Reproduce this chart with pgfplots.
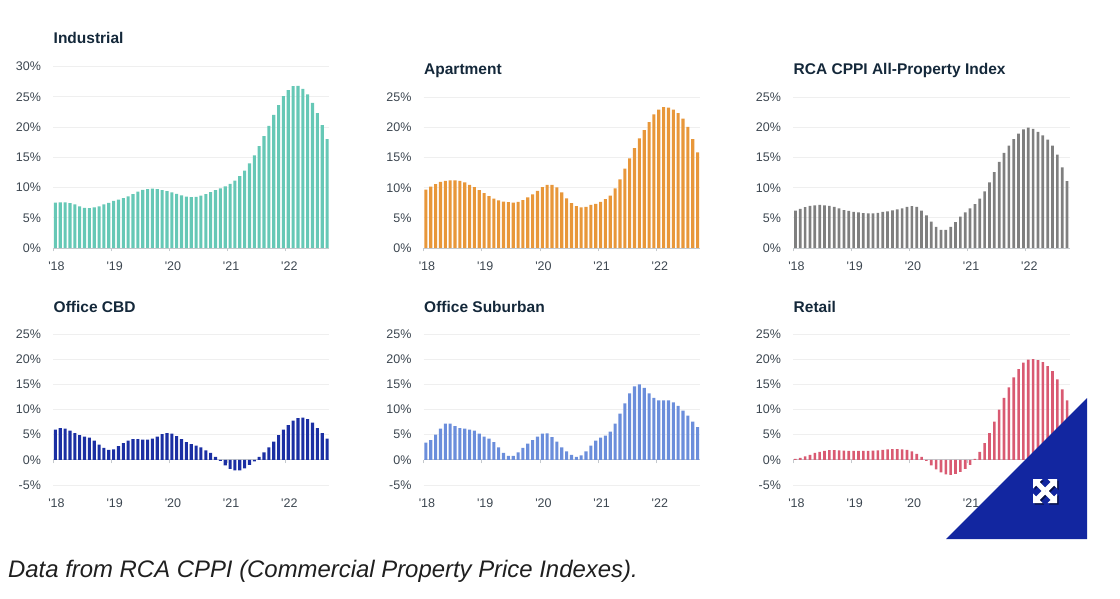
\documentclass[border=0pt]{standalone}
\usepackage{fontspec}
\setmainfont{Liberation Sans}
\usepackage{pgfplots}
\usepackage{pgfplotstable}
\pgfplotsset{compat=1.18}

\definecolor{ctitle}{HTML}{14283A}
\definecolor{ctick}{HTML}{3C4650}
\definecolor{cgrid}{HTML}{EFEFEF}
\definecolor{caxis}{HTML}{C4C8CC}
\definecolor{cind}{HTML}{66C8B6}
\definecolor{capt}{HTML}{E8973A}
\definecolor{call}{HTML}{7F7F7F}
\definecolor{ccbd}{HTML}{1B2FA3}
\definecolor{csub}{HTML}{6B8EDB}
\definecolor{cret}{HTML}{D95A72}
\definecolor{ctri}{HTML}{1226A0}

% monthly values, Jan 2018 to Sep 2022
\pgfplotstableread{
ind apt all cbd sub ret
7.5 9.7 6.2 6.0 3.4 0.2
7.55 10.2 6.5 6.3 3.9 0.4
7.55 10.6 6.8 6.2 5.0 0.7
7.4 11.0 7.0 5.8 6.2 1.0
7.2 11.15 7.1 5.3 7.2 1.4
6.9 11.25 7.15 4.9 7.2 1.6
6.65 11.25 7.1 4.6 6.7 1.8
6.6 11.15 7.0 4.4 6.3 1.95
6.7 10.9 6.85 3.8 6.2 1.95
6.9 10.5 6.6 3.0 6.0 1.9
7.2 10.1 6.3 2.4 5.8 1.85
7.45 9.6 6.15 2.0 5.2 1.8
7.8 9.1 6.0 2.1 4.6 1.8
8.0 8.6 5.9 2.7 4.2 1.8
8.25 8.2 5.8 3.3 3.5 1.8
8.55 7.9 5.75 3.8 2.5 1.8
8.9 7.7 5.75 4.1 1.4 1.85
9.3 7.6 5.85 4.1 0.8 1.9
9.6 7.55 6.0 4.0 0.8 2.0
9.75 7.65 6.1 4.0 1.5 2.1
9.8 7.95 6.25 4.2 2.4 2.15
9.75 8.4 6.4 4.6 3.2 2.15
9.55 8.9 6.6 5.1 3.9 2.1
9.4 9.5 6.85 5.3 4.6 2.0
9.2 10.1 6.95 5.2 5.2 1.7
8.95 10.5 6.85 4.7 5.25 1.2
8.7 10.5 6.2 4.1 4.5 0.6
8.5 10.05 5.4 3.5 3.6 -0.2
8.4 9.25 4.4 3.1 2.5 -1.1
8.45 8.25 3.5 2.8 1.7 -1.9
8.65 7.45 3.0 2.5 1.0 -2.5
8.9 6.95 3.0 1.9 0.6 -2.9
9.25 6.75 3.5 1.4 0.9 -3.0
9.55 6.85 4.3 0.6 1.7 -2.8
9.85 7.15 5.2 -0.2 2.8 -2.4
10.2 7.35 5.9 -1.1 3.8 -1.8
10.6 7.65 6.6 -1.8 4.4 -1.0
11.15 8.1 7.3 -2.1 4.8 0.2
11.9 8.7 8.2 -2.1 5.6 1.6
12.8 9.9 9.4 -1.7 7.2 3.3
14.0 11.4 10.9 -1.0 9.2 5.3
15.3 13.2 12.6 -0.3 11.2 7.6
16.85 14.9 14.3 0.6 13.2 10.0
18.5 16.6 15.8 1.5 14.6 12.3
20.2 18.2 17.0 2.5 15.0 14.4
22.0 19.6 18.1 3.6 14.3 16.4
23.6 20.9 19.0 4.9 13.2 18.0
25.1 22.2 19.7 6.0 12.3 19.3
26.1 23.0 20.0 6.9 11.8 19.9
26.75 23.4 19.8 7.8 11.8 20.0
26.8 23.3 19.3 8.3 11.8 19.8
26.3 23.0 18.7 8.4 11.4 19.4
25.4 22.4 18.0 8.1 10.7 18.6
24.0 21.5 17.0 7.4 9.8 17.6
22.3 20.1 15.5 6.3 8.8 16.0
20.3 18.1 13.4 5.3 7.6 14.0
18.0 15.9 11.1 4.2 6.5 11.8
}\cppi

\pgfplotsset{
  panel/.style={
    scale only axis, width=276.5pt, anchor=south west,
    xmin=0, xmax=57,
    axis x line=middle, axis y line=left,
    axis line style={-},
    x axis line style={draw=caxis, line width=0.8pt},
    y axis line style={draw=none},
    hide obscured x ticks=false, hide obscured y ticks=false,
    xtick={0,12,24,36,48},
    xticklabels={\textquotesingle18,\textquotesingle19,\textquotesingle20,\textquotesingle21,\textquotesingle22},
    x tick style={draw=caxis, line width=0.8pt},
    tick align=outside, major tick length=3.5pt,
    y tick style={draw=none},
    ymajorgrids, grid style={draw=cgrid, line width=0.8pt},
    ytick distance=5,
    yticklabel={\pgfmathprintnumber{\tick}\%},
    /pgf/number format/assume math mode=true,
    tick label style={font=\fontsize{12.5}{14}\selectfont, text=ctick},
    y tick label style={anchor=east, xshift=-5pt},
    title style={at={(0,1)}, anchor=south west, xshift=0.5pt, yshift=15pt, inner sep=0pt,
      font=\fontsize{15.5}{18}\selectfont\bfseries, text=ctitle},
  },
  pos/.style={panel, height=150.5pt, ymin=0, ymax=25, x tick label style={xshift=3.5pt, yshift=-7pt},
    title style={yshift=-1pt}},
  neg/.style={panel, height=151pt, ymin=-5, ymax=25, x tick label style={xshift=3.5pt, yshift=-32pt}},
  bars/.style={ybar, bar width=3.1pt, bar shift=0pt, draw=none, fill=#1},
}

\begin{document}
\begin{tikzpicture}[x=1pt,y=1pt]
\path[use as bounding box] (0,0) rectangle (1120,598);

% top row
\begin{axis}[pos, at={(53pt,350pt)}, height=181.5pt, ymax=30, title={Industrial}, title style={yshift=3pt}]
  \addplot[bars=cind] table[x expr=\coordindex+0.5, y=ind] {\cppi};
\end{axis}
\begin{axis}[pos, at={(423.5pt,350pt)}, title={Apartment}]
  \addplot[bars=capt] table[x expr=\coordindex+0.5, y=apt] {\cppi};
\end{axis}
\begin{axis}[pos, at={(793pt,350pt)}, title={RCA CPPI All-Property Index}]
  \addplot[bars=call, bar width=2.7pt] table[x expr=\coordindex+0.5, y=all] {\cppi};
\end{axis}

% bottom row
\begin{axis}[neg, at={(53pt,113pt)}, title={Office CBD}]
  \addplot[bars=ccbd] table[x expr=\coordindex+0.5, y=cbd] {\cppi};
\end{axis}
\begin{axis}[neg, at={(423.5pt,113pt)}, title={Office Suburban}]
  \addplot[bars=csub] table[x expr=\coordindex+0.5, y=sub] {\cppi};
\end{axis}
\begin{axis}[neg, at={(793pt,113pt)}, title={Retail}]
  \addplot[bars=cret, bar width=2.6pt] table[x expr=\coordindex+0.5, y=ret] {\cppi};
\end{axis}

% expand badge in the corner
\fill[ctri] (946,59) -- (1087,59) -- (1087,200) -- cycle;
\begin{scope}[shift={(1045,107)}]
  \foreach \col/\dx/\dy in {ctri!45!black/1.5/-1.5, white/0/0} {
    \begin{scope}[shift={(\dx,\dy)}]
      \foreach \a in {0,90,180,270} {
        \fill[\col,rotate=\a] (12,12) -- (2.5,12) -- (5.5,9) -- (-1.5,2) -- (2,-1.5) -- (9,5.5) -- (12,2.5) -- cycle;
      }
    \end{scope}
  }
\end{scope}

\node[anchor=base west, inner sep=0pt, font=\fontsize{23.9}{28}\selectfont\itshape, text=black!88]
  at (8,21) {Data from RCA CPPI (Commercial Property Price Indexes).};
\end{tikzpicture}
\end{document}
